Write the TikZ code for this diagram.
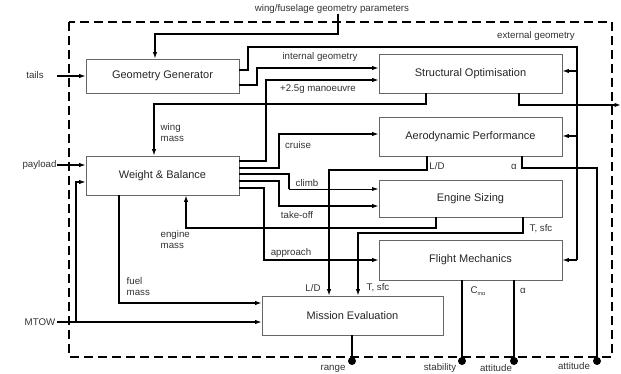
\documentclass[tikz,border=0pt]{standalone}
\usepackage{fontspec}
\setmainfont{Liberation Sans}
\usetikzlibrary{arrows.meta}
\begin{document}
\begin{tikzpicture}[x=1pt,y=-1pt,
  blk/.style={draw=black!60, line width=0.8pt, rectangle, inner sep=0pt,
    font=\fontsize{11}{13}\selectfont, text=black!85},
  lab/.style={font=\fontsize{9.7}{11}\selectfont, text=black!80, inner sep=0.5pt, align=left},
  ln/.style={line width=1.3pt, line join=miter},
  thinln/.style={line width=0.8pt},
  arr/.style={ln, -{Latex[length=6.5pt,width=4.5pt]}},
  thinarr/.style={thinln, -{Latex[length=6.5pt,width=4pt]}},
  enddot/.style={circle, fill=black, inner sep=0pt, minimum size=8pt},
  bound/.style={line width=1.3pt, dash pattern=on 9pt off 5pt}
]
\useasboundingbox (0,0) rectangle (621,374);
\fill[white] (0,0) rectangle (621,374);

% system boundary
\draw[bound] (69,22) rectangle (612,357);

% blocks
\node[blk, minimum width=153pt, minimum height=34pt] (GG) at (162.5,76) {Geometry Generator};
\node[blk, minimum width=183pt, minimum height=39pt] (SO) at (470.5,73.5) {Structural Optimisation};
\node[blk, minimum width=183pt, minimum height=39pt] (AP) at (470.5,136.5) {Aerodynamic Performance};
\node[blk, minimum width=153pt, minimum height=39pt] (WB) at (162.5,175.5) {Weight \& Balance};
\node[blk, minimum width=183pt, minimum height=37pt] (ES) at (470.5,198.5) {Engine Sizing};
\node[blk, minimum width=183pt, minimum height=40pt] (FM) at (470.5,260) {Flight Mechanics};
\node[blk, minimum width=181pt, minimum height=39pt] (ME) at (352.5,315.5) {Mission Evaluation};

% external inputs
\node[lab] (wfg) at (332,9) {wing/fuselage geometry parameters};
\node[lab] (tails) at (35,75) {tails};
\node[lab] (payload) at (39.5,165) {payload};
\node[lab] (mtow) at (40,322) {MTOW};
\coordinate (tin) at (57,76);
\coordinate (pin) at (57,165);
\coordinate (min) at (57,322);
\coordinate (mbr) at (76,322);

% outputs (dots)
\node[enddot] (dRange) at (352,361) {};
\node[enddot] (dStab) at (462,361) {};
\node[enddot] (dAtt1) at (514,361) {};
\node[enddot] (dAtt2) at (597,361) {};
\node[lab] at (333,369) {range};
\node[lab] at (440,368) {stability};
\node[lab] at (496,368) {attitude};
\node[lab] at (574,366) {attitude};
\coordinate (soOut) at (621,105);

% connector labels
\node[lab] at (320,57) {internal geometry};
\node[lab] at (318,89) {+2.5g manoeuvre};
\node[lab] at (536,36) {external geometry};
\node[lab, anchor=west] at (160,132.5) {wing\\mass};
\node[lab, anchor=west] at (160,239.5) {engine\\mass};
\node[lab, anchor=west] at (126,286.5) {fuel\\mass};
\node[lab] at (298,145) {cruise};
\node[lab] at (307,183) {climb};
\node[lab] at (297,215) {take-off};
\node[lab] at (291,253) {approach};
\node[lab] at (437,166) {L/D};
\node[lab] at (514,167) {α};
\node[lab] at (313,288) {L/D};
\node[lab] at (378,288) {T, sfc};
\node[lab] at (541,229) {T, sfc};
\node[lab] at (478,291) {C\raisebox{-2.5pt}{\fontsize{5.5}{6}\selectfont mα}};
\node[lab] at (523,291) {α};

% inputs
\draw[arr] (wfg.south -| 338,0) -- (338,34) -- (155,34) -- (GG.north -| 155,0);
\draw[arr] (tin) -- (GG.west |- tin);
\draw[arr] (pin) -- (WB.west |- pin);
\draw[arr] (min) -- (ME.west |- min);
\draw[arr] (mbr) -- (76,182) -- (WB.west |- 0,182);

% geometry generator outputs
\draw[ln] (GG.east |- 0,70) -- (248,70) -- (248,47) -- (577,47) -- (577,260);
\draw[arr] (577,260) -- (FM.east |- 0,260);
\draw[arr] (577,71) -- (SO.east |- 0,71);
\draw[arr] (577,136) -- (AP.east |- 0,136);
\draw[arr] (GG.east |- 0,85) -- (257,85) -- (257,68) -- (SO.west |- 0,68);

% structural optimisation outputs
\draw[arr] (SO.south -| 426,0) -- (426,104) -- (154,104) -- (WB.north -| 154,0);
\draw[arr] (SO.south -| 519,0) -- (519,105) -- (soOut);

% weight & balance outputs
\draw[arr] (WB.east |- 0,161) -- (266,161) -- (266,80) -- (SO.west |- 0,80);
\draw[arr] (WB.east |- 0,168) -- (279,168) -- (279,134) -- (AP.west |- 0,134);
\draw[ln] (WB.east |- 0,174) -- (289,174) -- (289,189);
\draw[thinarr] (289,189) -- (ES.west |- 0,189);
\draw[arr] (WB.east |- 0,181) -- (279,181) -- (279,206) -- (ES.west |- 0,206);
\draw[arr] (WB.east |- 0,188) -- (264,188) -- (264,260) -- (FM.west |- 0,260);
\draw[arr] (WB.south -| 119,0) -- (119,303) -- (ME.west |- 0,303);

% aerodynamic performance outputs
\draw[arr] (AP.south -| 427,0) -- (427,170) -- (329,170) -- (ME.north -| 329,0);
\draw[ln] (AP.south -| 522,0) -- (522,168) -- (597,168) -- (dAtt2.center);

% engine sizing outputs
\draw[arr] (ES.south -| 436,0) -- (436,228) -- (186,228) -- (WB.south -| 186,0);
\draw[arr] (ES.south -| 523,0) -- (523,233) -- (358,233) -- (ME.north -| 358,0);

% flight mechanics & mission evaluation outputs
\draw[ln] (FM.south -| dStab) -- (dStab.center);
\draw[ln] (FM.south -| dAtt1) -- (dAtt1.center);
\draw[ln] (ME.south -| dRange) -- (dRange.center);
\end{tikzpicture}
\end{document}
